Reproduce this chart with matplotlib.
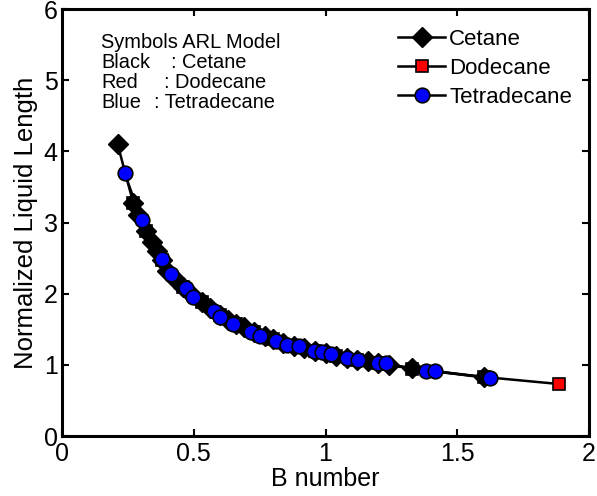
import matplotlib
matplotlib.use("Agg")
import matplotlib.pyplot as plt

plt.rcParams['font.family'] = ['Liberation Sans', 'DejaVu Sans']

# Normalized liquid length vs B number for three fuels
cetane_b = [0.211, 0.27, 0.29, 0.32, 0.34, 0.36, 0.38, 0.40, 0.43, 0.46, 0.49, 0.53,
            0.56, 0.60, 0.63, 0.66, 0.69, 0.73, 0.77, 0.80, 0.84, 0.88, 0.92, 0.96,
            1.00, 1.04, 1.08, 1.12, 1.16, 1.20, 1.24, 1.33, 1.60]
cetane_l = [4.10, 3.28, 3.10, 2.88, 2.72, 2.60, 2.48, 2.32, 2.20, 2.10, 2.00, 1.88,
            1.80, 1.70, 1.63, 1.58, 1.53, 1.46, 1.41, 1.36, 1.31, 1.27, 1.23, 1.20,
            1.17, 1.13, 1.10, 1.07, 1.05, 1.03, 1.00, 0.95, 0.83]

dodecane_b = [0.27, 0.32, 0.38, 0.46, 0.53, 0.60, 0.66, 0.73, 0.80, 0.88, 0.96, 1.04,
              1.12, 1.20, 1.33, 1.60, 1.887]
dodecane_l = [3.28, 2.88, 2.48, 2.10, 1.88, 1.70, 1.58, 1.46, 1.36, 1.27, 1.20, 1.13,
              1.07, 1.03, 0.94, 0.83, 0.73]

tetradecane_b = [0.238, 0.302, 0.381, 0.415, 0.472, 0.498, 0.577, 0.60, 0.65, 0.717,
                 0.75, 0.811, 0.853, 0.898, 0.955, 0.985, 1.02, 1.08, 1.125, 1.20,
                 1.23, 1.38, 1.415, 1.626]
tetradecane_l = [3.69, 3.03, 2.49, 2.28, 2.08, 1.96, 1.76, 1.67, 1.57, 1.46,
                 1.41, 1.33, 1.28, 1.26, 1.20, 1.18, 1.15, 1.10, 1.07, 1.03,
                 1.02, 0.91, 0.91, 0.81]

x_ticks = [0, 0.5, 1, 1.5, 2]
x_tick_labels = ['0', '0.5', '1', '1.5', '2']
y_ticks = [0, 1, 2, 3, 4, 5, 6]

fig = plt.figure(figsize=(5.97, 4.96), dpi=100)
ax = fig.add_axes([62 / 597, 1 - 436 / 496, 527 / 597, 427 / 496])

ax.plot(cetane_b, cetane_l, '-', color='black', lw=1.8, marker='D', ms=10,
        mfc='black', mec='black', mew=1.0, label='Cetane', zorder=3)
ax.plot(dodecane_b, dodecane_l, '-', color='black', lw=1.8, marker='s', ms=8,
        mfc='red', mec='black', mew=1.2, label='Dodecane', zorder=2)
ax.plot(tetradecane_b, tetradecane_l, '-', color='black', lw=1.8, marker='o', ms=10.5,
        mfc='blue', mec='black', mew=1.2, label='Tetradecane', zorder=4)

ax.set_xlim(0, 2)
ax.set_ylim(0, 6)
ax.set_xticks(x_ticks)
ax.set_xticklabels(x_tick_labels)
ax.set_yticks(y_ticks)
ax.tick_params(direction='in', top=True, right=True, length=5, width=1.5,
               labelsize=18, colors='black')
ax.tick_params(axis='x', pad=4)
ax.tick_params(axis='y', pad=3)
for sp in ax.spines.values():
    sp.set_linewidth(2.2)

ax.set_xlabel('B number', fontsize=18, labelpad=1)
ax.set_ylabel('Normalized Liquid Length', fontsize=18.5, labelpad=4)

leg = ax.legend(loc='upper right', frameon=False, fontsize=16, labelspacing=0.36,
                handlelength=2.1, handletextpad=0.2, borderaxespad=0.0,
                bbox_to_anchor=(0.985, 0.974))

# Color key for the model symbols
def px(xp, yp):
    return xp / 597, 1 - yp / 496

fs = 14.4
fig.text(*px(101, 42), 'Symbols ARL Model', fontsize=fs, va='center', ha='left')
rows = [('Black', ': Cetane', 62, 171), ('Red', ': Dodecane', 82, 164),
        ('Blue', ': Tetradecane', 103, 154)]
for name, rest, yp, xc in rows:
    fig.text(*px(101, yp), name, fontsize=fs, va='center', ha='left')
    fig.text(*px(xc, yp), rest, fontsize=fs, va='center', ha='left')

fig.savefig('out.png', dpi=100)
